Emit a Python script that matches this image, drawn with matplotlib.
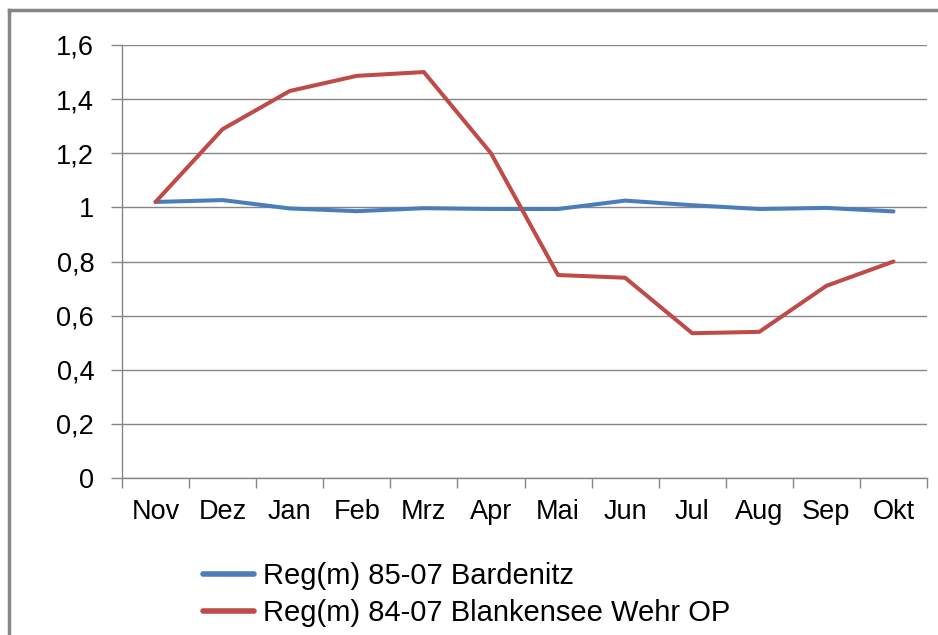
import matplotlib.pyplot as plt
from matplotlib.lines import Line2D

months = ['Nov', 'Dez', 'Jan', 'Feb', 'Mrz', 'Apr', 'Mai', 'Jun', 'Jul', 'Aug', 'Sep', 'Okt']
bardenitz = [1.02, 1.027, 0.996, 0.986, 0.997, 0.994, 0.994, 1.025, 1.008, 0.994, 0.998, 0.985]
blankensee = [1.02, 1.289, 1.43, 1.486, 1.50, 1.20, 0.75, 0.74, 0.535, 0.54, 0.71, 0.80]
yticks = [0, 0.2, 0.4, 0.6, 0.8, 1, 1.2, 1.4, 1.6]
ytick_labels = ['0', '0,2', '0,4', '0,6', '0,8', '1', '1,2', '1,4', '1,6']

plt.rcParams['font.family'] = ['Liberation Sans', 'DejaVu Sans']
gray = '#868686'

W, H = 938, 635
fig = plt.figure(figsize=(W / 100, H / 100), dpi=100)
ax = fig.add_axes([122 / W, 1 - 478 / H, (927 - 122) / W, (478 - 45) / H])

x = list(range(len(months)))
ax.plot(x, bardenitz, color='#4a7ebb', lw=2.9, solid_capstyle='round', zorder=3)
ax.plot(x, blankensee, color='#be4b48', lw=2.9, solid_capstyle='round', zorder=3)

ax.set_xlim(-0.5, len(months) - 0.5)
ax.set_ylim(0, 1.6)
ax.set_yticks(yticks)
ax.set_yticklabels(ytick_labels)
ax.set_xticks(x)
ax.set_xticklabels(months)
ax.set_xticks([i - 0.5 for i in range(len(months) + 1)], minor=True)
ax.tick_params(axis='x', which='major', length=0, pad=15, labelsize=19.5)
ax.tick_params(axis='x', which='minor', length=7, color=gray, width=1)
ax.tick_params(axis='y', length=8, color=gray, width=1, pad=12, labelsize=19.5)
ax.grid(axis='y', color=gray, lw=1)
ax.set_axisbelow(True)
for s in ['top', 'right']:
    ax.spines[s].set_visible(False)
for s in ['left', 'bottom']:
    ax.spines[s].set_color(gray)
    ax.spines[s].set_linewidth(1)

handles = [Line2D([], [], color='#4a7ebb', lw=4, solid_capstyle='round'),
           Line2D([], [], color='#be4b48', lw=4, solid_capstyle='round')]
fig.legend(handles, ['Reg(m) 85-07 Bardenitz', 'Reg(m) 84-07 Blankensee Wehr OP'],
           loc='upper left', bbox_to_anchor=(203 / W, 1 - 562 / H), frameon=False,
           fontsize=21, handlelength=1.75, handletextpad=0.3, labelspacing=0.3,
           borderpad=0, borderaxespad=0)

# outer chart frame (only top and left visible)
fig.add_artist(Line2D([9 / W, 1], [1 - 10 / H, 1 - 10 / H], color=gray, lw=2.5))
fig.add_artist(Line2D([9 / W, 9 / W], [0, 1 - 10 / H], color=gray, lw=2.5))

fig.savefig('out.png', dpi=100)
